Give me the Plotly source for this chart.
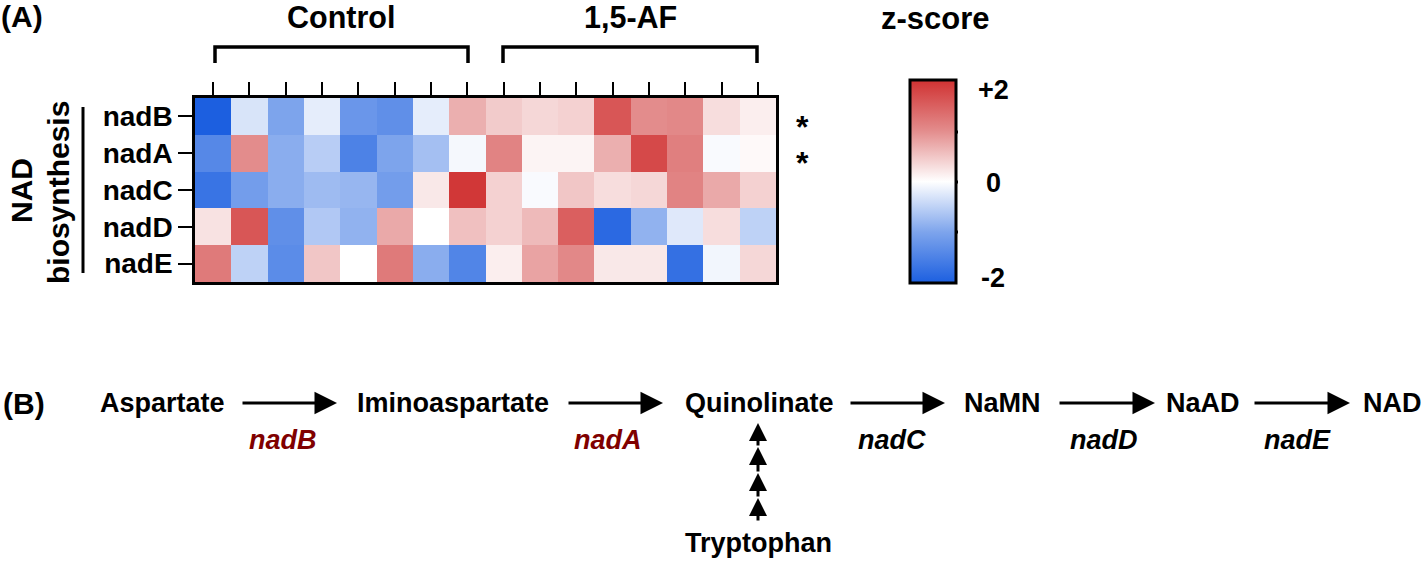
import plotly.graph_objects as go

# ---------------- data ----------------
genes = ["nadB", "nadA", "nadC", "nadD", "nadE"]
samples = ["C1", "C2", "C3", "C4", "C5", "C6", "C7", "C8",
           "AF1", "AF2", "AF3", "AF4", "AF5", "AF6", "AF7", "AF8"]
z_nadB = [-2.0, -0.3, -1.0, -0.2, -1.2, -1.3, -0.2, 0.7,
          0.45, 0.35, 0.4, 1.6, 1.0, 1.05, 0.3, 0.15]
z_nadA = [-1.4, 1.0, -0.9, -0.55, -1.5, -1.0, -0.7, -0.08,
          1.1, 0.1, 0.1, 0.7, 1.75, 1.15, -0.05, 0.05]
z_nadC = [-1.7, -1.1, -0.9, -0.75, -0.8, -1.1, 0.2, 1.95,
          0.4, -0.05, 0.5, 0.3, 0.35, 1.1, 0.75, 0.4]
z_nadD = [0.25, 1.6, -1.3, -0.6, -0.85, 0.75, 0.0, 0.55,
          0.4, 0.6, 1.5, -1.85, -0.85, -0.25, 0.3, -0.5]
z_nadE = [1.2, -0.5, -1.35, 0.5, 0.0, 1.2, -0.9, -1.45,
          0.15, 0.8, 1.05, 0.2, 0.2, -1.75, -0.1, 0.35]
significant = ["nadB", "nadA"]
group_labels = ["Control", "1,5-AF"]
cbar_ticks = ["+2", "0", "-2"]
pathway_metabolites = ["Aspartate", "Iminoaspartate", "Quinolinate", "NaMN", "NaAD", "NAD"]
pathway_genes = ["nadB", "nadA", "nadC", "nadD", "nadE"]

W, H = 1422, 562
FONT = "Liberation Sans, Arial, sans-serif"


def px(x):
    return x / W


def py(y):
    return 1 - y / H


colorscale = [[0.0, "#1c5fe0"], [0.25, "#7da4ec"], [0.5, "#ffffff"],
              [0.75, "#e38c8c"], [1.0, "#d03232"]]

fig = go.Figure()
fig.add_trace(go.Heatmap(
    z=[z_nadB, z_nadA, z_nadC, z_nadD, z_nadE],
    x=samples, y=genes, zmin=-2, zmax=2, colorscale=colorscale,
    xgap=0, ygap=0, hoverinfo="skip",
    colorbar=dict(
        x=px(910), xanchor="left", y=py(80), yanchor="top",
        lenmode="pixels", len=203, thicknessmode="pixels", thickness=46,
        outlinewidth=3, outlinecolor="black", xpad=0, ypad=0,
        showticklabels=False, ticks="", tickvals=[],
    ),
))

fig.update_layout(
    width=W, height=H, margin=dict(l=0, r=0, t=0, b=0),
    paper_bgcolor="white", plot_bgcolor="white",
    font=dict(family=FONT, color="black"),
    xaxis=dict(domain=[px(195), px(776)], side="top", ticks="outside", ticklen=13,
               tickwidth=2, tickcolor="black", showticklabels=False,
               showline=True, mirror=True, linecolor="black", linewidth=2.5,
               showgrid=False, zeroline=False, fixedrange=True),
    yaxis=dict(domain=[py(282), py(98)], autorange="reversed", ticks="outside",
               ticklen=14, tickwidth=2, tickcolor="black",
               tickfont=dict(size=28, family=FONT, weight="bold", color="black"),
               showline=True, mirror=True, linecolor="black", linewidth=2.5,
               showgrid=False, zeroline=False, fixedrange=True),
)

ann = []
shapes = []


def text(x, y, s, size, color="black", italic=False, angle=0, xanchor="center"):
    ann.append(dict(x=px(x), y=py(y), xref="paper", yref="paper", text=s,
                    showarrow=False, xanchor=xanchor, yanchor="middle",
                    textangle=angle,
                    font=dict(family=FONT, size=size, color=color, weight="bold",
                              style="italic" if italic else "normal")))


def arrow(x0, y0, x1, y1, size=1.5, width=3):
    ann.append(dict(x=px(x1), y=py(y1), xref="paper", yref="paper",
                    ax=x0 - x1, ay=y0 - y1, axref="pixel", ayref="pixel",
                    text="", showarrow=True, arrowhead=2, arrowsize=size,
                    arrowwidth=width, arrowcolor="black", standoff=0))


def line(x0, y0, x1, y1, w=3):
    shapes.append(dict(type="line", xref="paper", yref="paper",
                       x0=px(x0), y0=py(y0), x1=px(x1), y1=py(y1),
                       line=dict(color="black", width=w)))


# ---- Panel A ----
text(22, 17, "(A)", 30)
text(341, 17, group_labels[0], 30.5)
text(630, 17, group_labels[1], 30.5)
text(936, 18, "z-score", 31)
for (x0, x1) in [(215, 468), (503, 757)]:
    shapes.append(dict(type="path", xref="paper", yref="paper",
                       path=f"M {px(x0)},{py(63)} L {px(x0)},{py(47)} L {px(x1)},{py(47)} L {px(x1)},{py(63)}",
                       line=dict(color="black", width=3.5)))
text(22, 191, "NAD", 30, angle=-90)
text(58, 192, "biosynthesis", 30, angle=-90)
line(83, 107, 83, 273, 3)
row_y = {"nadB": 122, "nadA": 158}
for g in significant:
    text(803, row_y[g] + 5, "*", 32)

# colorbar labels and ticks
for lab, yy in zip(cbar_ticks, [90, 183, 278]):
    text(993, yy, lab, 27)
for yy in [132, 182, 232]:
    line(910, yy, 918, yy, 3)
    line(950, yy, 958, yy, 3)

# ---- Panel B ----
text(24, 403, "(B)", 30)
met_x = [162, 453, 760, 1002, 1203, 1392]
for m, x in zip(pathway_metabolites, met_x):
    text(x, 403, m, 27)
arrows_x = [(241, 337), (567, 663), (849, 945), (1058, 1155), (1253, 1350)]
for (a0, a1) in arrows_x:
    arrow(a0, 403, a1, 403, size=1.5, width=3)
gene_x = [283, 608, 892, 1104, 1297]
gene_col = ["#800000", "#800000", "black", "black", "black"]
for g, x, c in zip(pathway_genes, gene_x, gene_col):
    text(x, 440, g, 27, color=c, italic=True)
text(758, 543, "Tryptophan", 27)
heads = [522, 498, 473, 447, 423]
for i in range(4):
    arrow(758, heads[i], 758, heads[i + 1], size=1.2, width=3)

fig.update_layout(annotations=ann, shapes=shapes)
fig.write_html("out.html", config={"displayModeBar": False},
               post_script="document.body.style.margin='0';document.body.style.overflow='hidden';")
